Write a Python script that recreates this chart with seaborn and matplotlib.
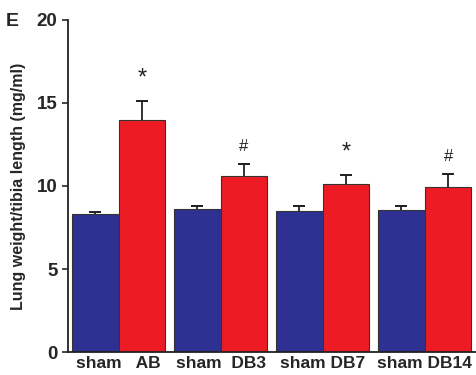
import matplotlib
matplotlib.use("Agg")
import matplotlib.pyplot as plt
import seaborn as sns
import pandas as pd
import numpy as np

groups = ["AB", "DB3", "DB7", "DB14"]
sham_vals = [8.3, 8.6, 8.5, 8.55]
sham_err = [0.12, 0.22, 0.28, 0.25]
treat_vals = [14.0, 10.6, 10.1, 9.95]
treat_err = [1.1, 0.7, 0.55, 0.75]
marks = ["*", "#", "*", "#"]
tick_labels = ["sham   AB", "sham  DB3", "sham DB7", "sham DB14"]

df = pd.DataFrame({
    "group": groups * 2,
    "cond": ["sham"] * 4 + ["treat"] * 4,
    "value": sham_vals + treat_vals,
})

sns.set_style("ticks")
plt.rcParams['font.family'] = ['Liberation Sans', 'DejaVu Sans']

fig = plt.figure(figsize=(4.77, 3.75), dpi=100)
ax = fig.add_axes([0.1426, 0.0613, 0.857, 0.8854])

sns.barplot(data=df, x="group", y="value", hue="cond", order=groups,
            hue_order=["sham", "treat"],
            palette={"sham": "#2e3192", "treat": "#ed1c24"}, saturation=1,
            width=0.915, errorbar=None, edgecolor="#333333", linewidth=0.8,
            legend=False, ax=ax)

bars = [p for p in ax.patches if p.get_height() > 0]
bars_sorted = sorted(bars, key=lambda p: p.get_x())
errs = []
vals = []
for i in range(4):
    errs += [sham_err[i], treat_err[i]]
    vals += [sham_vals[i], treat_vals[i]]
for p, v, e in zip(bars_sorted, vals, errs):
    cx = p.get_x() + p.get_width() / 2
    ax.errorbar(cx, v, yerr=[[0], [e]], fmt="none", ecolor="#222222",
                elinewidth=1.3, capsize=0, zorder=1)
    ax.errorbar(cx, v + e, yerr=[[0], [0]], fmt="none", ecolor="#222222",
                elinewidth=1.3, capsize=4.5, capthick=1.3, zorder=3)

red_bars = bars_sorted[1::2]
for p, v, e, m in zip(red_bars, treat_vals, treat_err, marks):
    cx = p.get_x() + p.get_width() / 2
    if m == "*":
        ax.text(cx, v + e + 0.7, m, ha="center", va="bottom", fontsize=17,
                color="#222222")
    else:
        ax.text(cx, v + e + 0.6, m, ha="center", va="bottom", fontsize=12,
                color="#222222")

ax.set_ylim(0, 20)
ax.set_xlim(-0.495, 3.51)
ax.set_yticks([0, 5, 10, 15, 20])
ax.set_xticks(range(4))
ax.set_xticklabels(tick_labels, fontsize=12.5, fontweight="bold")
ax.tick_params(axis="x", length=0, pad=3)
ax.tick_params(axis="y", labelsize=13.5, length=4, width=1.2, direction="out")
for lab in ax.get_yticklabels():
    lab.set_fontweight("bold")
ax.set_xlabel("")
ax.set_ylabel("Lung weight/tibia length (mg/ml)", fontsize=11.5,
              fontweight="bold", labelpad=8)
for s in ["top", "right"]:
    ax.spines[s].set_visible(False)
for s in ["left", "bottom"]:
    ax.spines[s].set_linewidth(1.3)
    ax.spines[s].set_color("#222222")

fig.text(0.012, 0.965, "E", fontsize=14, fontweight="bold", va="top")

fig.savefig("out.png", dpi=100)
